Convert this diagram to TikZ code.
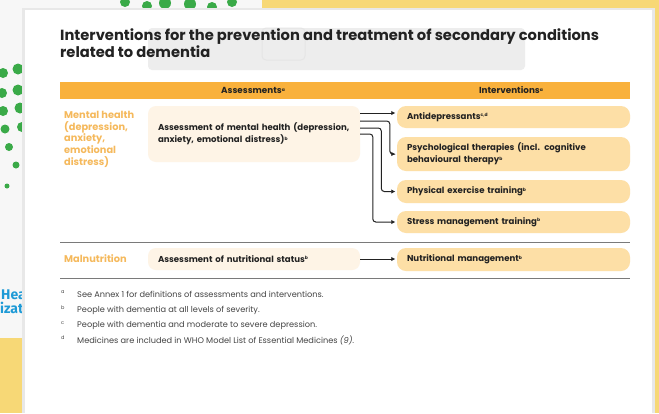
\documentclass[tikz,border=0pt]{standalone}
\usepackage{fontspec}
\setmainfont{Poppins}
\newfontfamily\whofont{Fira Sans}
\usetikzlibrary{arrows.meta,calc}
\definecolor{hdr}{HTML}{F9B13C}
\definecolor{lblc}{HTML}{F5B95C}
\definecolor{abox}{HTML}{FEF4E6}
\definecolor{ibox}{HTML}{FDDFA6}
\definecolor{bgyel}{HTML}{F7D876}
\definecolor{dotg}{HTML}{3AAA48}
\definecolor{txt}{HTML}{222222}
\definecolor{fnc}{HTML}{444444}
\definecolor{sepc}{HTML}{7A7A7A}
\definecolor{who}{HTML}{1E9AD6}
\newcommand\supm[1]{\raisebox{2.5pt}{\fontsize{4.5}{5}\selectfont #1}}
\begin{document}
\begin{tikzpicture}[x=1pt,y=-1pt,
  abx/.style={fill=abox, rounded corners=8pt, minimum width=212pt, text width=192pt, inner xsep=10pt, inner ysep=0pt, align=left, font=\bfseries\fontsize{8.6}{12}\selectfont, text=txt},
  ibx/.style={fill=ibox, rounded corners=9pt, minimum width=233pt, text width=213pt, inner xsep=10pt, inner ysep=0pt, align=left, font=\bfseries\fontsize{8.6}{12}\selectfont, text=txt},
  lbl/.style={text=lblc, font=\bfseries\fontsize{9.8}{11.7}\selectfont, align=left, anchor=west, inner sep=0pt},
  hdrtxt/.style={text=txt, font=\bfseries\fontsize{8.8}{9}\selectfont, inner sep=0pt},
  arr/.style={draw=txt, line width=1pt, -{Latex[length=4pt,width=4.5pt]}, rounded corners=3pt, shorten >=1.5pt},
  sepline/.style={draw=sepc, line width=1pt},
  fnm/.style={text=fnc, font=\fontsize{5}{6}\selectfont, inner sep=0pt, anchor=west},
  fnt/.style={text=fnc, font=\fontsize{8.2}{9}\selectfont, inner sep=0pt, anchor=west},
  gdot/.style={fill=dotg}
]
\useasboundingbox (0,0) rectangle (659,413);
% background
\fill[white!97!black] (0,0) rectangle (659,413);
\fill[bgyel] (262,0) rectangle (659,413);
\fill[bgyel] (0,338) rectangle (30,413);
\foreach \x/\y/\r in {3/73/5,18/69/5.5,2/93/5,18/90/5.5,3/111/5,20/108/5.5,5/129/4.5,22/127/5,9/147/4,16/165/3.5,7/186/2.5,
  125/2/5,147/6/5,165/3/6,190/4/6,212/7/5,232/2/5}
  \fill[gdot] (\x,\y) circle (\r);
\node[text=who, font=\whofont\bfseries\fontsize{14}{15}\selectfont, anchor=west, inner sep=0pt] (hea) at (1,295) {Hea};
\node[text=who, font=\whofont\bfseries\fontsize{14}{15}\selectfont, anchor=west, inner sep=0pt] (izat) at (0,308) {izat};
% card with shadow
\fill[black!20] (23,9) rectangle (654,413);
\fill[black!9] (22,8) rectangle (655,413);
\fill[white] (25,10) rectangle (652,413);
% overlay
\fill[black!7, rounded corners=4pt] (148,28) rectangle (525,70);
\draw[white!90!black, line width=1pt, rounded corners=4pt] (262,28) rectangle (305,60);
% title
\node[anchor=north west, inner sep=0pt, align=left, text=txt, font=\bfseries\fontsize{14.7}{17}\selectfont] (title) at (60,29)
  {Interventions for the prevention and treatment of secondary conditions\\related to dementia};
% header
\node[fill=hdr, minimum width=570pt, minimum height=17pt, inner sep=0pt, anchor=north west] (hdr) at (60,82) {};
\node[hdrtxt] (hA) at (253,90.5) {Assessments\supm{a}};
\node[hdrtxt] (hI) at (511,90.5) {Interventions\supm{a}};
% labels
\node[lbl, anchor=north west] (lmh) at (64,111) {Mental health\\(depression,\\anxiety,\\emotional\\distress)};
\node[lbl] (lmal) at (64,259) {Malnutrition};
% assessment boxes
\node[abx, minimum height=56pt] (amh) at (254,134) {Assessment of mental health (depression,\\anxiety, emotional distress)\supm{b}};
\node[abx, minimum height=22pt] (anu) at (254,259) {Assessment of nutritional status\supm{b}};
% interventions
\node[ibx, minimum height=22pt] (anti) at (513.5,117) {Antidepressants\supm{c,d}};
\node[ibx, minimum height=34pt] (psy) at (513.5,154) {Psychological therapies (incl. cognitive\\behavioural therapy\supm{b}};
\node[ibx, minimum height=23pt] (phy) at (513.5,191.5) {Physical exercise training\supm{b}};
\node[ibx, minimum height=22pt] (str) at (513.5,222) {Stress management training\supm{b}};
\node[ibx, minimum height=23pt] (nut) at (513.5,259.5) {Nutritional management\supm{b}};
% separators
\coordinate (l1a) at (60,242); \coordinate (l1b) at (630,242);
\coordinate (l2a) at (60,278); \coordinate (l2b) at (630,278);
\draw[sepline] (l1a) -- (l1b);
\draw[sepline] (l2a) -- (l2b);
% arrows
\coordinate (s1) at ($(amh.east)+(0,-21)$);
\coordinate (s2) at ($(amh.east)+(0,-13)$);
\coordinate (s3) at ($(amh.east)+(0,-6)$);
\coordinate (s4) at (amh.east);
\draw[arr] (s1) -- (s1 -| anti.west);
\draw[arr] (s2) -| ($(psy.west)+(-7,0)$) -- (psy.west);
\draw[arr] (s3) -| ($(phy.west)+(-15.5,0)$) -- (phy.west);
\draw[arr] (s4) -| ($(str.west)+(-24,0)$) -- (str.west);
\draw[arr] (anu.east) -- (anu.east -| nut.west);
% footnotes
\node[fnm] (ma) at (61,292) {a};
\node[fnt] (fa) at (77,294) {See Annex 1 for definitions of assessments and interventions.};
\node[fnm] (mb) at (61,308) {b};
\node[fnt] (fb) at (77,310) {People with dementia at all levels of severity.};
\node[fnm] (mc) at (61,323) {c};
\node[fnt] (fc) at (77,325) {People with dementia and moderate to severe depression.};
\node[fnm] (md) at (61,338) {d};
\node[fnt] (fd) at (77,340) {Medicines are included in WHO Model List of Essential Medicines \textit{(9)}.};
\end{tikzpicture}
\end{document}
